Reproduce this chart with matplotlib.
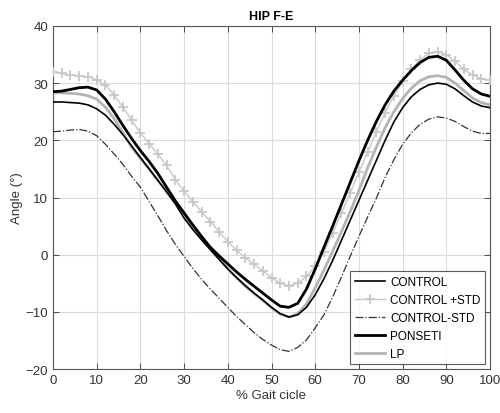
import numpy as np
import matplotlib
matplotlib.use("Agg")
import matplotlib.pyplot as plt

plt.rcParams['font.family'] = ['Liberation Sans', 'DejaVu Sans']

gait_pct = list(range(0, 101, 2))

control = [26.7, 26.7, 26.6, 26.5, 26.2, 25.5, 24.4, 22.8, 21.0, 19.0,
           17.0, 15.0, 13.0, 11.0, 8.9, 6.4, 4.4, 2.6, 0.9, -0.8,
           -2.5, -4.0, -5.4, -6.7, -7.9, -9.2, -10.3, -10.9, -10.5, -9.2,
           -7.0, -4.2, -1.0, 2.5, 6.0, 9.5, 13.0, 16.5, 20.0, 23.2,
           25.7, 27.6, 28.9, 29.7, 30.0, 29.8, 29.0, 27.8, 26.7, 26.0,
           25.7]

control_plus_std = [32.0, 31.7, 31.4, 31.3, 31.1, 30.6, 29.7, 27.9, 25.8, 23.5,
                    21.3, 19.4, 17.6, 15.6, 13.1, 11.1, 9.3, 7.5, 5.8, 4.0,
                    2.3, 0.8, -0.5, -1.7, -2.8, -4.0, -5.0, -5.4, -5.0, -3.8,
                    -2.0, 0.5, 3.8, 7.3, 10.8, 14.4, 18.0, 21.5, 24.8, 27.8,
                    30.3, 32.4, 34.1, 35.2, 35.5, 35.0, 33.8, 32.4, 31.4, 30.8,
                    30.5]

control_minus_std = [21.5, 21.6, 21.8, 21.9, 21.6, 20.8, 19.3, 17.6, 15.8, 13.7,
                     11.8, 9.3, 6.8, 4.2, 1.8, -0.3, -2.4, -4.3, -6.0, -7.6,
                     -9.2, -10.8, -12.2, -13.6, -14.8, -15.8, -16.6, -16.9, -16.2, -14.9,
                     -12.8, -10.5, -7.4, -3.9, -0.3, 3.2, 6.6, 9.9, 13.5, 16.6,
                     19.3, 21.3, 22.8, 23.7, 24.1, 23.9, 23.3, 22.4, 21.6, 21.2,
                     21.2]

ponseti = [28.5, 28.6, 28.9, 29.2, 29.3, 28.8, 27.2, 25.0, 22.6, 20.3,
           18.2, 16.3, 14.2, 11.8, 9.4, 7.3, 5.2, 3.2, 1.3, -0.2,
           -1.6, -3.0, -4.3, -5.5, -6.7, -7.9, -9.0, -9.2, -8.5, -6.0,
           -2.5, 1.3, 5.0, 8.8, 12.6, 16.4, 20.0, 23.3, 26.2, 28.6,
           30.5, 32.2, 33.6, 34.5, 34.7, 34.0, 32.3, 30.5, 29.0, 28.1,
           27.7]

lp = [28.3, 28.3, 28.2, 28.1, 27.8, 27.2, 25.8, 23.8, 21.3, 18.8,
      16.8, 15.0, 13.0, 11.0, 9.0, 6.8, 4.8, 2.8, 1.0, -0.7,
      -2.4, -4.0, -5.5, -6.8, -8.0, -9.3, -10.4, -10.9, -10.3, -8.6,
      -5.8, -2.7, 0.6, 4.0, 7.5, 11.2, 15.2, 18.8, 22.2, 25.0,
      27.3, 29.1, 30.4, 31.1, 31.3, 31.0, 30.0, 28.7, 27.4, 26.6,
      26.2]

fig = plt.figure(figsize=(5.0, 4.14), dpi=100)
ax = fig.add_axes([0.106, 0.106, 0.874, 0.829])

ax.plot(gait_pct, control, color='black', lw=1.2, label='CONTROL', zorder=4)
ax.plot(gait_pct, control_plus_std, color='#c8c8c8', lw=1.0, marker='+',
        markersize=7, markeredgewidth=1.3, label='CONTROL +STD', zorder=3)
ax.plot(gait_pct, control_minus_std, color='#333333', lw=0.9, ls='-.',
        label='CONTROL-STD', zorder=3)
ax.plot(gait_pct, ponseti, color='black', lw=2.0, label='PONSETI', zorder=5)
ax.plot(gait_pct, lp, color='#b4b4b4', lw=2.0, label='LP', zorder=3)

ax.set_xlim(0, 100)
ax.set_ylim(-20, 40)
ax.set_xticks(range(0, 101, 10))
ax.set_yticks(range(-20, 41, 10))
ax.grid(True, color='#dcdcdc', lw=0.8)
ax.set_axisbelow(True)
ax.tick_params(direction='in', top=True, right=True, labelsize=9.5,
               colors='#333333', length=4, width=0.6)
for s in ax.spines.values():
    s.set_color('#555555')
    s.set_linewidth(0.8)

ax.set_title('HIP F-E', fontsize=9, fontweight='bold', pad=5)
ax.set_xlabel('% Gait cicle', fontsize=9.5, color='#333333', labelpad=2)
ax.set_ylabel('Angle (°)', fontsize=9.5, color='#333333', labelpad=2)

leg = ax.legend(loc='lower right', fontsize=8.5, frameon=True, fancybox=False,
                borderaxespad=0.4, handlelength=2.6, labelspacing=0.5,
                borderpad=0.4, handletextpad=0.4)
leg.get_frame().set_edgecolor('#333333')
leg.get_frame().set_linewidth(0.8)

fig.savefig('out.png', dpi=100)
